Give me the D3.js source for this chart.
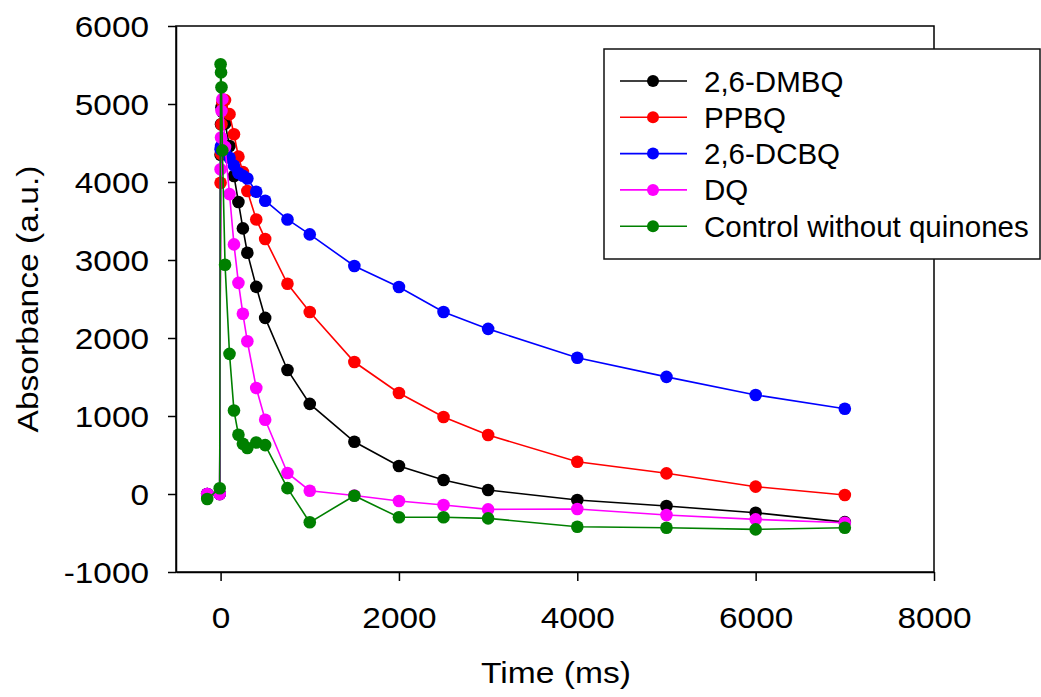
<!DOCTYPE html>
<html>
<head>
<meta charset="utf-8">
<script src="https://cdn.jsdelivr.net/npm/d3@7"></script>
<style>
  html, body { margin: 0; padding: 0; background: #fff; }
  svg { display: block; }
  text { font-family: "Liberation Sans", Arial, sans-serif; fill: #000; }
</style>
</head>
<body>
<svg id="chart" width="1041" height="697"></svg>
<script>
// ---------- data ----------
const times = [-150, -10, 0, 5, 10, 20, 50, 100, 150, 200, 250, 300, 400, 500, 750, 1000, 1500, 2000, 2500, 3000, 4000, 5000, 6000, 7000];

const dmbq    = [0, 0, 4350, 4740, 4958, 4900, 4750, 4462, 4077, 3743, 3405, 3093, 2656, 2258, 1590, 1155, 670, 359, 179, 51, -77, -154, -240, -360];
const ppbq    = [0, 0, 3990, 4360, 4740, 5020, 5050, 4870, 4612, 4325, 4128, 3884, 3520, 3270, 2695, 2333, 1692, 1295, 987, 756, 414, 265, 94, -13];
const dcbq    = [0, 0, 4420, 4460, 4450, 4420, 4400, 4310, 4210, 4115, 4080, 4045, 3875, 3760, 3520, 3328, 2923, 2654, 2333, 2117, 1746, 1502, 1270, 1092];
const dq      = [0, 0, 4163, 4570, 4912, 5062, 4450, 3845, 3200, 2707, 2310, 1958, 1359, 952, 270, 42, -20, -90, -141, -197, -192, -269, -325, -368];
const control = [-64, 73, 5510, 5405, 5215, 4405, 2940, 1797, 1070, 760, 645, 590, 660, 627, 75, -363, -22, -299, -299, -312, -419, -432, -453, -432];

const seriesNames  = ["2,6-DMBQ", "PPBQ", "2,6-DCBQ", "DQ", "Control without quinones"];
const seriesValues = [dmbq, ppbq, dcbq, dq, control];
const seriesColors = ["#000000", "#ff0000", "#0000ff", "#ff00ff", "#008000"];

const xTicks = [0, 2000, 4000, 6000, 8000];
const yTicks = [-1000, 0, 1000, 2000, 3000, 4000, 5000, 6000];

// ---------- layout ----------
const svg = d3.select("#chart");
const pLeft = 176, pRight = 934, pTop = 26, pBottom = 572;

const x = d3.scaleLinear().domain([-500, 8000]).range([pLeft, pRight]);
const y = d3.scaleLinear().domain([-1000, 6000]).range([pBottom, pTop]);
const fmt = d => String(d);   // plain hyphen-minus, as in the reference

// frame (top & right)
svg.append("rect")
  .attr("x", pLeft).attr("y", pTop)
  .attr("width", pRight - pLeft).attr("height", pBottom - pTop)
  .attr("fill", "none").attr("stroke", "#000").attr("stroke-width", 1.5);

// axes
const xAxis = svg.append("g")
  .attr("transform", `translate(0,${pBottom})`)
  .call(d3.axisBottom(x).tickValues(xTicks).tickSize(9).tickSizeOuter(0).tickFormat(fmt));
const yAxis = svg.append("g")
  .attr("transform", `translate(${pLeft},0)`)
  .call(d3.axisLeft(y).tickValues(yTicks).tickSize(8).tickSizeOuter(0).tickFormat(fmt));

[xAxis, yAxis].forEach(g => {
  g.selectAll("path.domain").attr("stroke", "#000").attr("stroke-width", 1.5);
  g.selectAll(".tick line").attr("stroke", "#000").attr("stroke-width", 1.5);
  g.selectAll(".tick text").remove();
});

// tick labels (slightly wide, as in the reference)
xAxis.selectAll(".tick").append("text")
  .attr("transform", "translate(0,56) scale(1.15,1)")
  .attr("text-anchor", "middle")
  .style("font-size", "29px")
  .text(fmt);

yAxis.selectAll(".tick").append("text")
  .attr("transform", "translate(-27,10.5) scale(1.15,1)")
  .attr("text-anchor", "end")
  .style("font-size", "29px")
  .text(fmt);

// axis titles
svg.append("text")
  .attr("transform", "translate(556,683) scale(1.12,1)")
  .attr("text-anchor", "middle")
  .style("font-size", "30px")
  .text("Time (ms)");

svg.append("text")
  .attr("transform", "translate(38,299) rotate(-90) scale(1.12,1)")
  .attr("text-anchor", "middle")
  .style("font-size", "30px")
  .text("Absorbance (a.u.)");

// series
const line = d3.line().x(d => x(d[0])).y(d => y(d[1]));
seriesValues.forEach((vals, i) => {
  const pts = times.map((t, j) => [t, vals[j]]);
  const g = svg.append("g");
  g.append("path")
    .datum(pts)
    .attr("d", line)
    .attr("fill", "none")
    .attr("stroke", seriesColors[i])
    .attr("stroke-width", 1.6);
  g.selectAll("circle")
    .data(pts)
    .join("circle")
    .attr("cx", d => x(d[0]))
    .attr("cy", d => y(d[1]))
    .attr("r", 6.3)
    .attr("fill", seriesColors[i]);
});

// legend
const lg = svg.append("g");
lg.append("rect")
  .attr("x", 604).attr("y", 49)
  .attr("width", 436).attr("height", 210)
  .attr("fill", "#fff").attr("stroke", "#111").attr("stroke-width", 1.5);

seriesNames.forEach((name, i) => {
  const cy = 81 + i * 36.3;
  lg.append("line")
    .attr("x1", 620).attr("x2", 687)
    .attr("y1", cy).attr("y2", cy)
    .attr("stroke", seriesColors[i]).attr("stroke-width", 1.6);
  lg.append("circle")
    .attr("cx", 653).attr("cy", cy).attr("r", 6)
    .attr("fill", seriesColors[i]);
  lg.append("text")
    .attr("x", 704).attr("y", cy + 10.5)
    .style("font-size", "29.5px")
    .text(name);
});
</script>
</body>
</html>
